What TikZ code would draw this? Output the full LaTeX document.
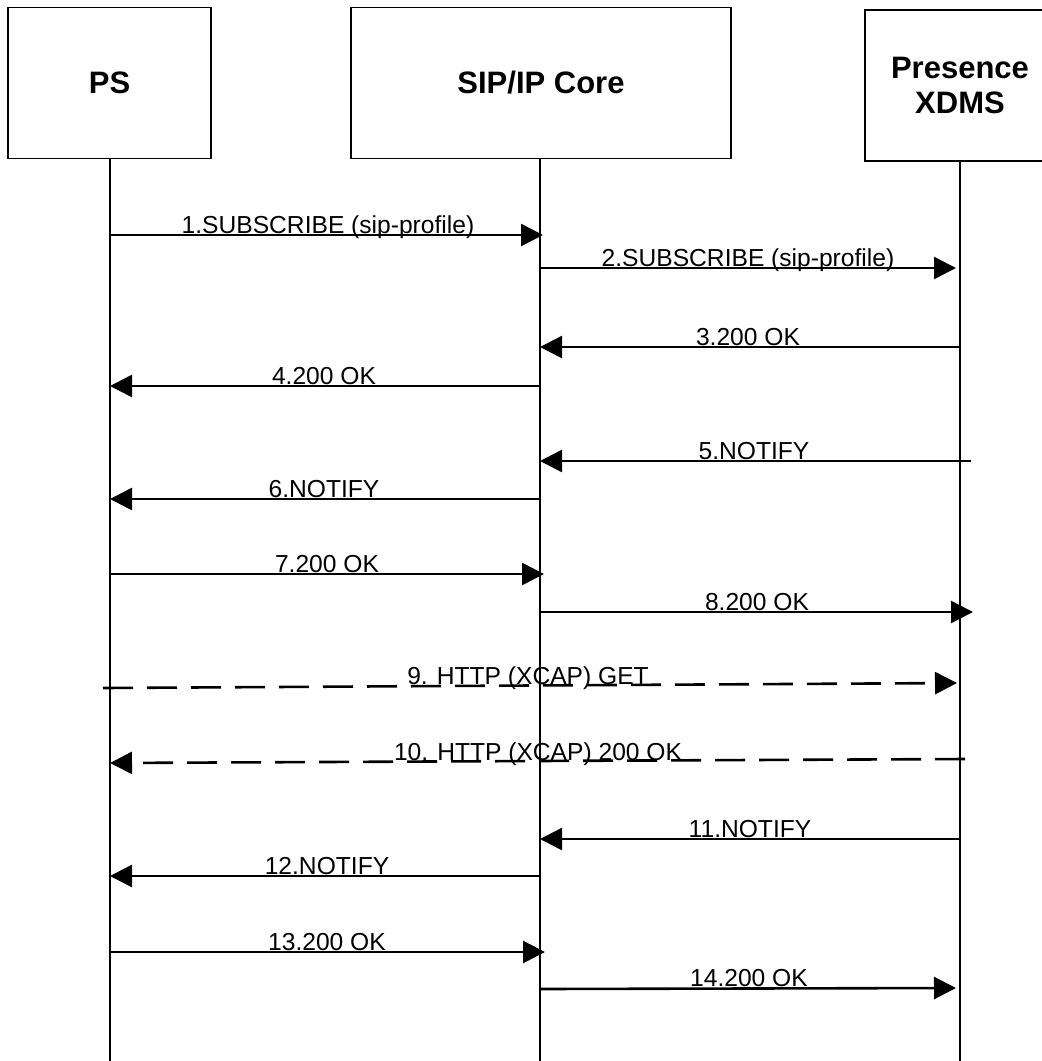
\documentclass[tikz,border=0pt]{standalone}
\usepackage{fontspec}
\setmainfont{Liberation Sans}
\usetikzlibrary{arrows.meta}
\begin{document}
\begin{tikzpicture}[x=1pt,y=-1pt,
  ent/.style={draw,line width=1.8pt,minimum height=151pt,inner sep=0pt,font=\fontsize{31}{35}\selectfont\bfseries,align=center},
  life/.style={line width=1.4pt},
  msg/.style={line width=2.6pt,-{Triangle[length=22pt,width=22pt]}},
  dmsg/.style={msg,dash pattern=on 30pt off 14pt},
  lbl/.style={font=\fontsize{24.6}{28}\selectfont,inner sep=0pt,anchor=base}]
\useasboundingbox (0,0) rectangle (1042,1061);
\clip (0,0) rectangle (1042,1061);
% entities
\node[ent,minimum width=203pt] (ps) at (109.5,83) {PS};
\node[ent,minimum width=380pt] (core) at (541,83) {SIP/IP Core};
\node[ent,minimum width=190pt] (xdms) at (960,85.5) {Presence\\XDMS};
% lifelines
\coordinate (psb) at (110,1061);
\coordinate (coreb) at (540,1061);
\coordinate (xdmsb) at (960,1061);
\draw[life] (ps.south -| psb) -- (psb);
\draw[life] (core.south -| coreb) -- (coreb);
\draw[life] (xdms.south -| xdmsb) -- (xdmsb);
% message end points
\coordinate (m1s) at (110,235);  \coordinate (m1e) at (543,235);
\coordinate (m2s) at (540,268);  \coordinate (m2e) at (956,268);
\coordinate (m3s) at (959,347);  \coordinate (m3e) at (540,347);
\coordinate (m4s) at (540,386);  \coordinate (m4e) at (110,386);
\coordinate (m5s) at (971,461);  \coordinate (m5e) at (540,461);
\coordinate (m6s) at (540,499);  \coordinate (m6e) at (110,499);
\coordinate (m7s) at (110,574);  \coordinate (m7e) at (544,574);
\coordinate (m8s) at (540,612);  \coordinate (m8e) at (973,612);
\coordinate (m9s) at (103,688);  \coordinate (m9e) at (957,683);
\coordinate (m10s) at (965,759); \coordinate (m10e) at (110,763);
\coordinate (m11s) at (960,839); \coordinate (m11e) at (540,839);
\coordinate (m12s) at (540,876); \coordinate (m12e) at (110,876);
\coordinate (m13s) at (110,952); \coordinate (m13e) at (545,952);
\coordinate (m14s) at (540,989); \coordinate (m14e) at (956,988);
% messages
\draw[msg] (m1s) -- (m1e);
\draw[msg] (m2s) -- (m2e);
\draw[msg] (m3s) -- (m3e);
\draw[msg] (m4s) -- (m4e);
\draw[msg] (m5s) -- (m5e);
\draw[msg] (m6s) -- (m6e);
\draw[msg] (m7s) -- (m7e);
\draw[msg] (m8s) -- (m8e);
\draw[dmsg] (m9s) -- (m9e);
\draw[dmsg] (m10s) -- (m10e);
\draw[msg] (m11s) -- (m11e);
\draw[msg] (m12s) -- (m12e);
\draw[msg] (m13s) -- (m13e);
\draw[msg] (m14s) -- (m14e);
% labels
\node[lbl] (l1) at (328,233) {1.SUBSCRIBE (sip-profile)};
\node[lbl] (l2) at (748,266) {2.SUBSCRIBE (sip-profile)};
\node[lbl] (l3) at (748,345) {3.200 OK};
\node[lbl] (l4) at (324,384) {4.200 OK};
\node[lbl] (l5) at (754,459) {5.NOTIFY};
\node[lbl] (l6) at (324,497) {6.NOTIFY};
\node[lbl] (l7) at (327,572) {7.200 OK};
\node[lbl] (l8) at (757,610) {8.200 OK};
\node[lbl] (l9) at (528,684) {9. HTTP (XCAP) GET};
\node[lbl] (l10) at (538,760) {10. HTTP (XCAP) 200 OK};
\node[lbl] (l11) at (750,837) {11.NOTIFY};
\node[lbl] (l12) at (327,874) {12.NOTIFY};
\node[lbl] (l13) at (327,950) {13.200 OK};
\node[lbl] (l14) at (749,986) {14.200 OK};
\end{tikzpicture}
\end{document}
